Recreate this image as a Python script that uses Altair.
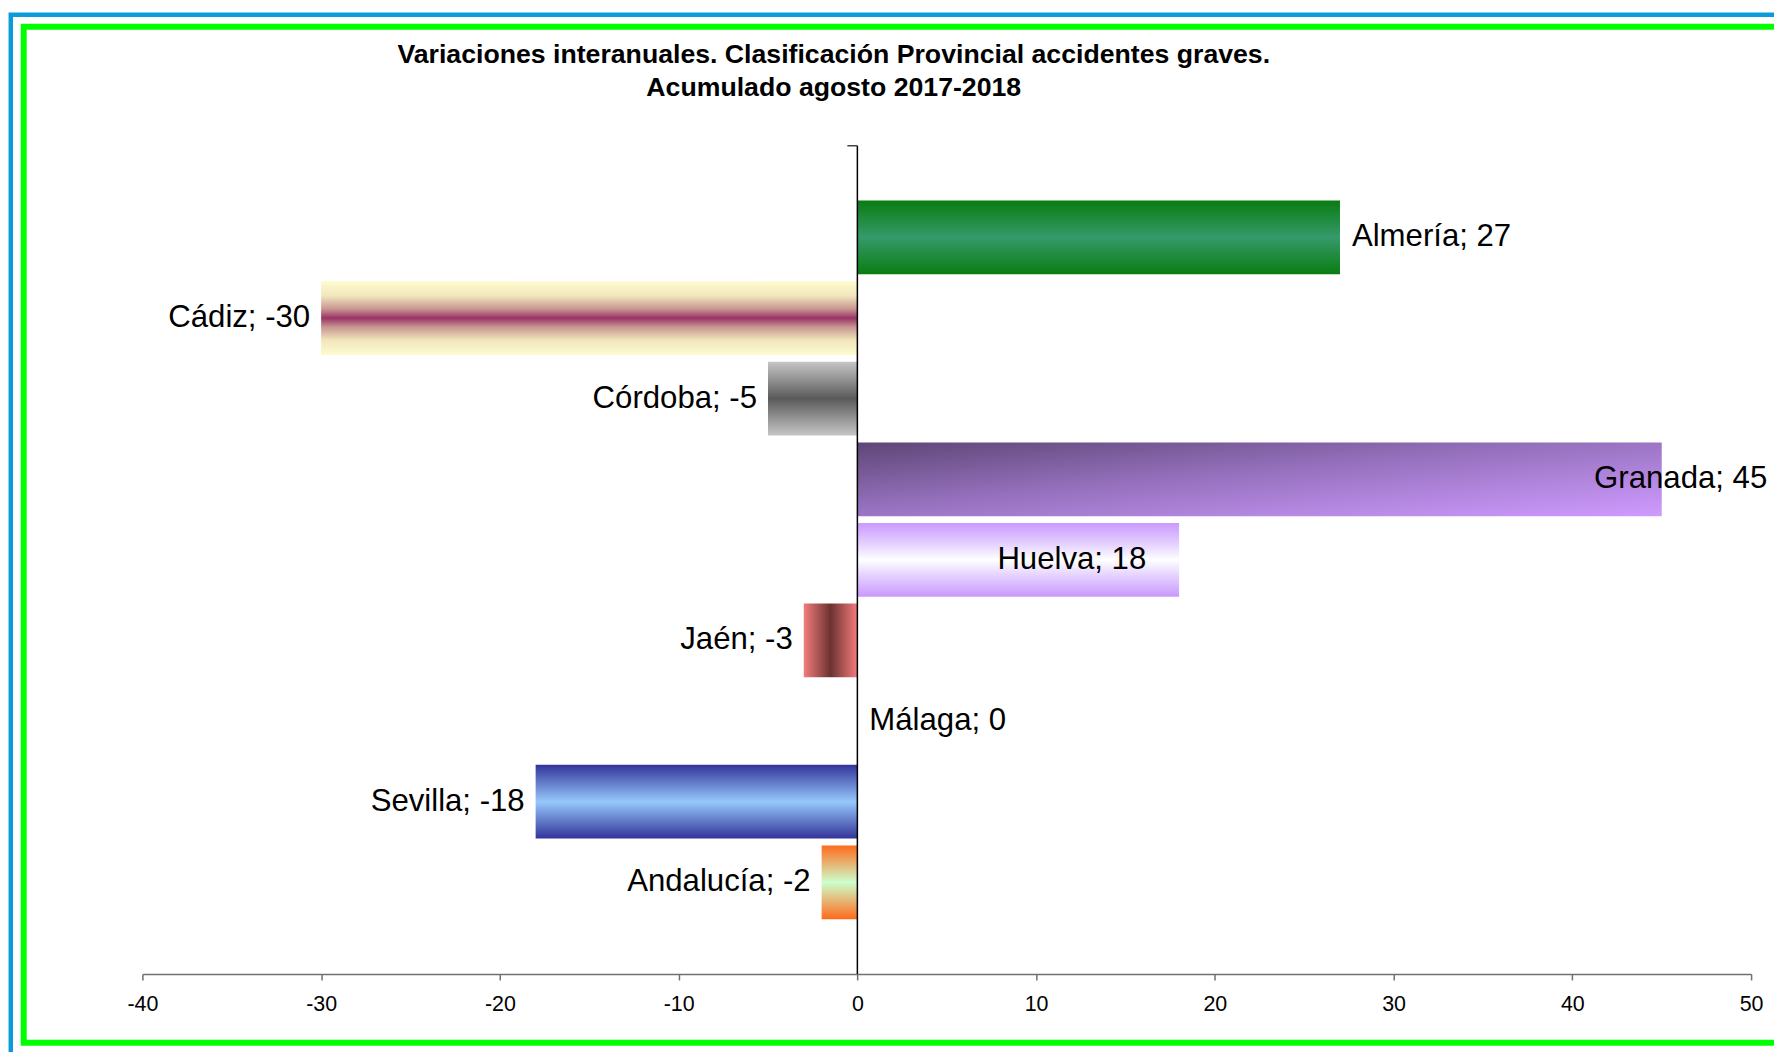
import altair as alt
import pandas as pd

# ---------------- data ----------------
provincias = ["Almería", "Cádiz", "Córdoba", "Granada", "Huelva",
              "Jaén", "Málaga", "Sevilla", "Andalucía"]
valores = [27, -30, -5, 45, 18, -3, 0, -18, -2]
ticks_x = [-40, -30, -20, -10, 0, 10, 20, 30, 40, 50]
titulo = ["Variaciones interanuales. Clasificación Provincial accidentes graves.",
          "Acumulado agosto 2017-2018"]

df = pd.DataFrame({"provincia": provincias, "valor": valores})
df["etiqueta"] = [f"{p}; {v}" for p, v in zip(provincias, valores)]

# ---------------- styling ----------------
FONT = "Liberation Sans"
W, H = 1616, 832


def grad(stops, horizontal=False):
    g = {"gradient": "linear", "x1": 0, "y1": 0,
         "x2": 1 if horizontal else 0, "y2": 0 if horizontal else 1,
         "stops": [{"offset": o, "color": c} for o, c in stops]}
    return g


fills = {
    "Almería": grad([(0, "#0A7C12"), (0.5, "#359A6A"), (1, "#0A7C12")]),
    "Cádiz": grad([(0, "#FFFBD0"), (0.2, "#F1E6BC"), (0.38, "#C79491"),
                   (0.5, "#993366"), (0.62, "#C79491"), (0.8, "#F1E6BC"),
                   (1, "#FFFBD0")]),
    "Córdoba": grad([(0, "#C6C6C6"), (0.5, "#5A5A5A"), (1, "#C6C6C6")]),
    "Granada": {"gradient": "linear", "x1": 0, "y1": 0, "x2": 1, "y2": 1,
                "stops": [{"offset": 0, "color": "#5E4676"},
                          {"offset": 0.45, "color": "#9671BE"},
                          {"offset": 1, "color": "#CF9BFF"}]},
    "Huelva": grad([(0, "#C999FF"), (0.3, "#E6D4FF"), (0.5, "#FFFFFF"),
                    (0.7, "#E6D4FF"), (1, "#C999FF")]),
    "Jaén": grad([(0, "#F47C7C"), (0.5, "#6C3232"), (1, "#F47C7C")], horizontal=True),
    "Málaga": grad([(0, "#808080"), (1, "#808080")]),
    "Sevilla": grad([(0, "#333399"), (0.5, "#96C8FC"), (1, "#333399")]),
    "Andalucía": grad([(0, "#FF6A1A"), (0.5, "#CCFFCC"), (1, "#FF6A1A")]),
}

# label placement: (align, dx)
label_special = {"Granada": ("right", 106), "Huelva": ("right", -33)}

x_enc = alt.X("valor:Q",
              scale=alt.Scale(domain=[-40, 50], nice=False, zero=False),
              axis=alt.Axis(values=ticks_x, title=None, grid=False,
                            labelFont=FONT, labelFontSize=21.5, labelColor="#000000",
                            labelPadding=14, tickSize=6, tickColor="#707070",
                            tickWidth=1.5, domainColor="#707070", domainWidth=1.5,
                            labelFlush=False, labelExpr="'' + datum.value"))
y_enc = alt.Y("provincia:N", sort=provincias,
              scale=alt.Scale(paddingInner=0.085, paddingOuter=0.68),
              axis=None)

base = alt.Chart(df)
one = pd.DataFrame({"k": [0]})

layers = []

# outer frames
layers.append(alt.Chart(one).mark_rect(filled=False, stroke="#0A9BD9", strokeWidth=4.5).encode(
    x=alt.value(-132.2), x2=alt.value(3000), y=alt.value(-131.5), y2=alt.value(3000)))
layers.append(alt.Chart(one).mark_rect(filled=False, stroke="#00FF00", strokeWidth=6).encode(
    x=alt.value(-119.2), x2=alt.value(3000), y=alt.value(-119.5), y2=alt.value(901)))

# bars
for p in provincias:
    layers.append(base.transform_filter(alt.datum.provincia == p)
                  .mark_bar(fill=fills[p], stroke="transparent")
                  .encode(x=x_enc, x2=alt.datum(0), y=y_enc))

# category axis at zero
layers.append(alt.Chart(one).mark_rule(color="#000000", strokeWidth=1.5).encode(x=alt.datum(0)))
layers.append(alt.Chart(one).mark_rule(color="#444444", strokeWidth=1.5).encode(
    x=alt.datum(-0.56), x2=alt.datum(0), y=alt.value(0)))

# labels
normal = [p for p in provincias if p not in label_special]
pos_names = [p for p, v in zip(provincias, valores) if v >= 0 and p in normal]
neg_names = [p for p, v in zip(provincias, valores) if v < 0 and p in normal]
txt = dict(font=FONT, fontSize=31.3, color="#000000", baseline="middle")
layers.append(base.transform_filter(alt.FieldOneOfPredicate(field="provincia", oneOf=pos_names))
              .mark_text(align="left", dx=12, **txt)
              .encode(x=x_enc, y=y_enc, text="etiqueta:N"))
layers.append(base.transform_filter(alt.FieldOneOfPredicate(field="provincia", oneOf=neg_names))
              .mark_text(align="right", dx=-11, **txt)
              .encode(x=x_enc, y=y_enc, text="etiqueta:N"))
for p, (al, dx) in label_special.items():
    layers.append(base.transform_filter(alt.datum.provincia == p)
                  .mark_text(align=al, dx=dx, **txt)
                  .encode(x=x_enc, y=y_enc, text="etiqueta:N"))

# title
tdf = pd.DataFrame({"t": ["\n".join(titulo)]})
layers.append(alt.Chart(tdf).mark_text(font=FONT, fontSize=26.8, fontWeight="bold",
                                       color="#000000", align="center", baseline="top",
                                       lineBreak="\n", lineHeight=33.5).encode(
    text="t:N", x=alt.value(694.5), y=alt.value(-104)))

chart = alt.layer(*layers).properties(
    width=W, height=H,
    padding={"left": 135, "top": 136, "right": 23, "bottom": 76},
    autosize=alt.AutoSizeParams(type="none"),
    background="#FFFFFF",
).configure_view(stroke="transparent")

chart.save("out.html", embed_options={"renderer": "svg", "actions": False})
